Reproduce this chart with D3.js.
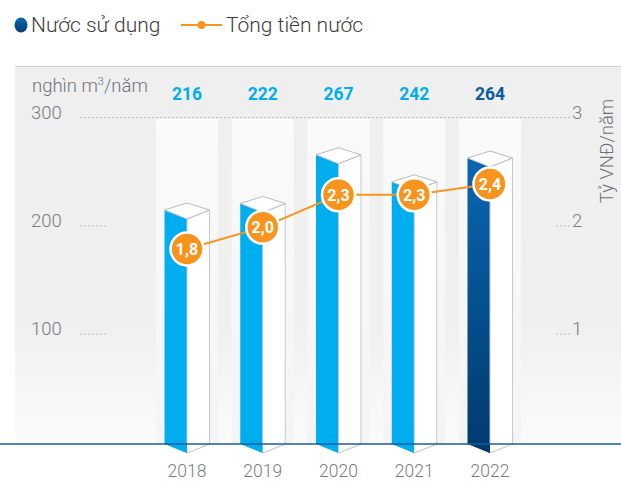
<!DOCTYPE html>
<html>
<head>
<meta charset="utf-8">
<script src="https://cdn.jsdelivr.net/npm/d3@7/dist/d3.min.js"></script>
<style>
  html, body { margin: 0; padding: 0; background: #ffffff; }
  svg { display: block; font-family: Roboto, "Noto Sans", sans-serif; }
</style>
</head>
<body>
<svg id="chart" width="621" height="481"></svg>
<script>
// Water consumption (thousand m3/year) and total water cost (billion VND/year)
const years = ["2018", "2019", "2020", "2021", "2022"];
const waterUsed = [216, 222, 267, 242, 264];
const waterCost = [1.8, 2.0, 2.3, 2.3, 2.4];
const costLabels = ["1,8", "2,0", "2,3", "2,3", "2,4"];
const leftTicks = [100, 200, 300];
const rightTicks = [1, 2, 3];

const svg = d3.select("#chart");
const W = 621, H = 481;
const baseY = 444;

const x = d3.scalePoint().domain(years).range([187, 490]);
const yL = d3.scaleLinear().domain([0, 300]).range([baseY, 119]);
const yR = d3.scaleLinear().domain([0, 3]).range([baseY, 119]);

const defs = svg.append("defs");
const panelGrad = defs.append("linearGradient").attr("id", "panelGrad")
  .attr("x1", 0).attr("y1", 0).attr("x2", 0).attr("y2", 1);
panelGrad.append("stop").attr("offset", "0%").attr("stop-color", "#efefef");
panelGrad.append("stop").attr("offset", "70%").attr("stop-color", "#f0f0f0");
panelGrad.append("stop").attr("offset", "100%").attr("stop-color", "#fbfbfb");

const colGrad = defs.append("linearGradient").attr("id", "colGrad")
  .attr("x1", 0).attr("y1", 0).attr("x2", 0).attr("y2", 1);
colGrad.append("stop").attr("offset", "0%").attr("stop-color", "#fafafa");
colGrad.append("stop").attr("offset", "100%").attr("stop-color", "#f4f4f4");

const darkGrad = defs.append("linearGradient").attr("id", "darkGrad")
  .attr("x1", 0).attr("y1", 0).attr("x2", 0).attr("y2", 1);
darkGrad.append("stop").attr("offset", "0%").attr("stop-color", "#0a66b0");
darkGrad.append("stop").attr("offset", "100%").attr("stop-color", "#003a6e");

const legendGrad = defs.append("linearGradient").attr("id", "legendGrad")
  .attr("x1", 0).attr("y1", 0).attr("x2", 0).attr("y2", 1);
legendGrad.append("stop").attr("offset", "0%").attr("stop-color", "#0a68b3");
legendGrad.append("stop").attr("offset", "100%").attr("stop-color", "#003d74");

// Legend
const legend = svg.append("g");
legend.append("ellipse").attr("cx", 21).attr("cy", 25).attr("rx", 6.5).attr("ry", 7.5)
  .attr("fill", "url(#legendGrad)");
legend.append("text").attr("x", 31).attr("y", 32).attr("font-size", 21)
  .attr("fill", "#3c3c3c").attr("font-weight", 300).text("Nước sử dụng");
legend.append("line").attr("x1", 181).attr("x2", 222).attr("y1", 25).attr("y2", 25)
  .attr("stroke", "#f7941d").attr("stroke-width", 2);
legend.append("circle").attr("cx", 201.5).attr("cy", 25).attr("r", 4).attr("fill", "#f7941d");
legend.append("text").attr("x", 226).attr("y", 32).attr("font-size", 21)
  .attr("fill", "#3c3c3c").attr("font-weight", 300).text("Tổng tiền nước");

// Panel
svg.append("rect").attr("x", 15).attr("y", 66).attr("width", W - 15).attr("height", baseY - 66)
  .attr("fill", "url(#panelGrad)");
svg.append("line").attr("x1", 15).attr("x2", W).attr("y1", 66.5).attr("y2", 66.5)
  .attr("stroke", "#cdd4db").attr("stroke-width", 1);

// Column highlights behind each bar
svg.append("g").selectAll("rect").data(years).join("rect")
  .attr("x", d => x(d) - 31).attr("width", 62)
  .attr("y", yL(300)).attr("height", baseY - yL(300))
  .attr("fill", "url(#colGrad)");

// Gridlines
const grid = svg.append("g").attr("stroke", "#b9bec4").attr("stroke-width", 1)
  .attr("stroke-dasharray", "2,2");
grid.append("line").attr("x1", 80).attr("x2", 570).attr("y1", yL(300) - 1.5).attr("y2", yL(300) - 1.5);
leftTicks.filter(t => t < 300).forEach(t => {
  grid.append("line").attr("x1", 80).attr("x2", 108).attr("y1", yL(t) - 1.5).attr("y2", yL(t) - 1.5);
});
rightTicks.filter(t => t < 3).forEach(t => {
  grid.append("line").attr("x1", 556).attr("x2", 570).attr("y1", yR(t) - 1.5).attr("y2", yR(t) - 1.5);
});

// Axis tick labels
svg.append("g").selectAll("text").data(leftTicks).join("text")
  .attr("x", 31).attr("y", d => yL(d) - 0.5).attr("font-size", 18.5).attr("fill", "#777c82")
  .attr("font-weight", 300).text(d => d);
svg.append("g").selectAll("text").data(rightTicks).join("text")
  .attr("x", 572).attr("y", d => yR(d) - 0.5).attr("font-size", 18.5).attr("fill", "#777c82")
  .attr("font-weight", 300).text(d => d);

// Axis titles
const unit = svg.append("text").attr("x", 32).attr("y", 92).attr("font-size", 18.5)
  .attr("fill", "#6e7378").attr("font-weight", 300);
unit.append("tspan").text("nghìn m");
unit.append("tspan").attr("font-size", 11).attr("dy", -7).text("3");
unit.append("tspan").attr("dy", 7).text("/năm");

svg.append("text").attr("transform", "translate(613,151) rotate(-90)")
  .attr("text-anchor", "middle").attr("font-size", 18.5).attr("fill", "#6e7378")
  .attr("font-weight", 300).text("Tỷ VNĐ/năm");

// Value labels above columns
svg.append("g").selectAll("text").data(waterUsed).join("text")
  .attr("x", (d, i) => x(years[i])).attr("y", 99.5).attr("text-anchor", "middle")
  .attr("font-size", 17.5).attr("font-weight", 700)
  .attr("fill", (d, i) => i === years.length - 1 ? "#0b5aa2" : "#00aeef")
  .text(d => d);

// Prism bars
const half = 22.5, front = 9, back = 7;
const bars = svg.append("g").selectAll("g").data(waterUsed).join("g");
bars.append("path")
  .attr("d", (d, i) => {
    const c = x(years[i]), t = yL(d);
    return `M${c - half},${t} L${c},${t + front} L${c},${baseY + front} L${c - half},${baseY} Z`;
  })
  .attr("fill", (d, i) => i === years.length - 1 ? "url(#darkGrad)" : "#00aeef");
bars.append("path")
  .attr("d", (d, i) => {
    const c = x(years[i]), t = yL(d);
    return `M${c},${t + front} L${c + half},${t} L${c + half},${baseY} L${c},${baseY + front} Z`;
  })
  .attr("fill", "#ffffff").attr("stroke", "#c3c8ce").attr("stroke-width", 1);
bars.append("path")
  .attr("d", (d, i) => {
    const c = x(years[i]), t = yL(d);
    return `M${c - half},${t} L${c},${t - back} L${c + half},${t} L${c},${t + front} Z`;
  })
  .attr("fill", "#ffffff").attr("stroke", "#b5bbc2").attr("stroke-width", 1);

// Baseline
svg.append("line").attr("x1", 0).attr("x2", W).attr("y1", baseY).attr("y2", baseY)
  .attr("stroke", "#1d5d9b").attr("stroke-width", 1.5);
// Redraw lower tips of the prisms over the baseline
bars.append("path")
  .attr("d", (d, i) => {
    const c = x(years[i]);
    return `M${c - half},${baseY - 0.5} L${c},${baseY + front} L${c},${baseY - 0.5} Z`;
  })
  .attr("fill", (d, i) => i === years.length - 1 ? "#003a6e" : "#00aeef");
bars.append("path")
  .attr("d", (d, i) => {
    const c = x(years[i]);
    return `M${c},${baseY - 0.5} L${c},${baseY + front} L${c + half},${baseY} L${c + half},${baseY - 0.5} Z`;
  })
  .attr("fill", "#ffffff");
bars.append("path")
  .attr("d", (d, i) => {
    const c = x(years[i]);
    return `M${c},${baseY + front} L${c + half},${baseY} L${c + half},${baseY - 2}`;
  })
  .attr("fill", "none").attr("stroke", "#c3c8ce").attr("stroke-width", 1);

// Year labels
svg.append("g").selectAll("text").data(years).join("text")
  .attr("x", d => x(d)).attr("y", 477).attr("text-anchor", "middle")
  .attr("font-size", 17.5).attr("fill", "#777c82").attr("font-weight", 300).text(d => d);

// Cost line
const line = d3.line().x((d, i) => x(years[i])).y(d => yR(d));
svg.append("path").datum(waterCost).attr("d", line)
  .attr("fill", "none").attr("stroke", "#f7941d").attr("stroke-width", 2);

const pts = svg.append("g").selectAll("g").data(waterCost).join("g")
  .attr("transform", (d, i) => `translate(${x(years[i])},${yR(d)})`);
pts.append("circle").attr("r", 16.5).attr("fill", "#f7941d")
  .attr("stroke", "#ffffff").attr("stroke-width", 2.5);
pts.append("text").attr("text-anchor", "middle").attr("dy", "0.36em")
  .attr("font-size", 16).attr("font-weight", 700).attr("fill", "#ffffff")
  .text((d, i) => costLabels[i]);
</script>
</body>
</html>
